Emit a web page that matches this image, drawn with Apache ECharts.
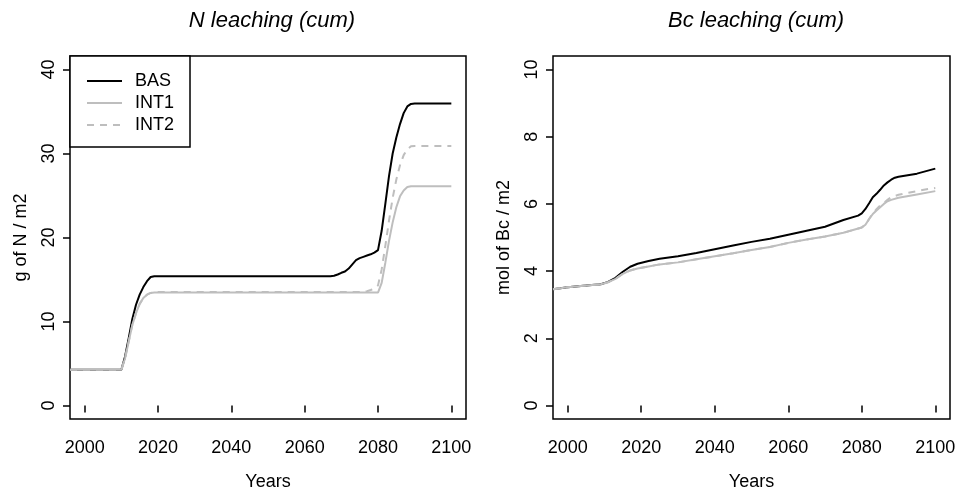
<!DOCTYPE html>
<html lang="en">

<head>
    <meta charset="UTF-8">
    <title>N and Bc leaching (cum)</title>
    <script src="https://cdn.jsdelivr.net/npm/echarts@6/dist/echarts.min.js"></script>
    <style>
        body,
        html {
            margin: 0;
            padding: 0;
            background: #fff;
        }

        #main {
            width: 959px;
            height: 491px;
        }
    </style>
</head>

<body>
    <div id="main"></div>
    <script>
        // tick labels
        var yearTicks = [2000, 2020, 2040, 2060, 2080, 2100];
        var nTicks = [0, 10, 20, 30, 40];
        var bcTicks = [0, 2, 4, 6, 8, 10];

        // N leaching (cum), g of N / m2  -- [year, value]
        var nBAS = [[1996, 4.25], [2010, 4.25], [2011, 5.8], [2012, 8.0], [2013, 10.3], [2014, 12.0], [2015, 13.2],
            [2016, 14.1], [2017, 14.8], [2018, 15.3], [2019, 15.4], [2067, 15.4], [2068, 15.45], [2069, 15.6],
            [2070, 15.8], [2071, 15.95], [2072, 16.3], [2073, 16.8], [2074, 17.3], [2075, 17.55], [2076, 17.7],
            [2077, 17.85], [2078, 18.0], [2079, 18.2], [2080, 18.5], [2081, 20.8], [2082, 24.0], [2083, 27.3],
            [2084, 30.0], [2085, 31.9], [2086, 33.5], [2087, 34.8], [2088, 35.6], [2089, 35.9], [2090, 35.95],
            [2100, 35.95]];
        var nINT1 = [[1996, 4.25], [2010, 4.25], [2011, 5.6], [2012, 7.6], [2013, 9.6], [2014, 11.0], [2015, 12.1],
            [2016, 12.8], [2017, 13.2], [2018, 13.4], [2019, 13.45], [2080, 13.45], [2081, 14.6], [2082, 17.0],
            [2083, 19.6], [2084, 21.8], [2085, 23.6], [2086, 24.9], [2087, 25.6], [2088, 26.0], [2089, 26.1],
            [2100, 26.1]];
        var nINT2 = [[1996, 4.25], [2010, 4.25], [2011, 5.6], [2012, 7.6], [2013, 9.6], [2014, 11.0], [2015, 12.1],
            [2016, 12.8], [2017, 13.2], [2018, 13.4], [2019, 13.5], [2076, 13.5], [2077, 13.6], [2078, 13.75],
            [2079, 13.95], [2080, 14.3], [2081, 16.2], [2082, 19.0], [2083, 22.0], [2084, 24.7], [2085, 26.9],
            [2086, 28.6], [2087, 29.8], [2088, 30.5], [2089, 30.85], [2090, 30.9], [2100, 30.9]];

        // Bc leaching (cum), mol of Bc / m2
        var bcBAS = [[1996, 3.46], [2000, 3.52], [2005, 3.57], [2009, 3.61], [2011, 3.68], [2013, 3.8], [2015, 3.98],
            [2017, 4.13], [2019, 4.22], [2022, 4.3], [2025, 4.37], [2030, 4.44], [2035, 4.54], [2040, 4.65],
            [2045, 4.76], [2050, 4.87], [2055, 4.96], [2060, 5.08], [2065, 5.2], [2070, 5.32], [2075, 5.52],
            [2079, 5.65], [2080, 5.72], [2081, 5.85], [2082, 6.02], [2083, 6.2], [2084, 6.3], [2085, 6.42],
            [2086, 6.55], [2087, 6.64], [2088, 6.72], [2089, 6.78], [2090, 6.81], [2095, 6.9], [2100, 7.05]];
        var bcINT1 = [[1996, 3.46], [2000, 3.52], [2005, 3.57], [2009, 3.61], [2011, 3.67], [2013, 3.77], [2015, 3.92],
            [2017, 4.02], [2019, 4.08], [2022, 4.14], [2025, 4.2], [2030, 4.26], [2035, 4.35], [2040, 4.44],
            [2045, 4.53], [2050, 4.63], [2055, 4.72], [2060, 4.84], [2065, 4.94], [2070, 5.03], [2075, 5.14],
            [2080, 5.3], [2081, 5.38], [2082, 5.55], [2083, 5.7], [2084, 5.8], [2085, 5.9], [2086, 6.0],
            [2087, 6.08], [2088, 6.12], [2090, 6.18], [2095, 6.28], [2100, 6.38]];
        var bcINT2 = [[1996, 3.46], [2000, 3.52], [2005, 3.57], [2009, 3.61], [2011, 3.67], [2013, 3.77], [2015, 3.92],
            [2017, 4.02], [2019, 4.08], [2022, 4.14], [2025, 4.2], [2030, 4.26], [2035, 4.35], [2040, 4.44],
            [2045, 4.53], [2050, 4.63], [2055, 4.72], [2060, 4.84], [2065, 4.94], [2070, 5.03], [2075, 5.14],
            [2080, 5.3], [2081, 5.38], [2082, 5.55], [2083, 5.72], [2084, 5.84], [2085, 5.95], [2086, 6.03],
            [2087, 6.12], [2088, 6.2], [2090, 6.27], [2092, 6.32], [2095, 6.38], [2098, 6.44], [2100, 6.47]];

        var font = 'Liberation Sans, Arial, sans-serif';
        var grey = '#bebebe';

        function xAxisOf(idx) {
            return {
                type: 'value', gridIndex: idx, min: 1996, max: 2104,
                name: 'Years', nameLocation: 'middle', nameGap: 54,
                nameTextStyle: { fontFamily: font, fontSize: 18, color: '#000' },
                axisLine: { show: false },
                axisTick: { show: true, length: 7, customValues: yearTicks, lineStyle: { color: '#000', width: 1.5 } },
                axisLabel: {
                    customValues: yearTicks, margin: 20, fontFamily: font, fontSize: 18, color: '#000',
                    formatter: function (v) { return String(v); }
                },
                splitLine: { show: false }
            };
        }
        function yAxisOf(idx, name, min, max, ticks) {
            return {
                type: 'value', gridIndex: idx, min: min, max: max,
                name: name, nameLocation: 'middle', nameGap: 40,
                nameTextStyle: { fontFamily: font, fontSize: 18, color: '#000' },
                axisLine: { show: false },
                axisTick: { show: true, length: 7, customValues: ticks, lineStyle: { color: '#000', width: 1.5 } },
                axisLabel: { customValues: ticks, rotate: 90, margin: 12, fontFamily: font, fontSize: 18, color: '#000' },
                splitLine: { show: false }
            };
        }
        function line(name, idx, data, color, dashed) {
            return {
                name: name, type: 'line', xAxisIndex: idx, yAxisIndex: idx, data: data,
                symbol: 'none', silent: true, animation: false,
                lineStyle: { color: color, width: 2, type: dashed ? [7, 6] : 'solid' },
                itemStyle: { color: color }
            };
        }

        var myChart = echarts.init(document.getElementById('main'));
        var option = {
            backgroundColor: '#fff',
            animation: false,
            title: [
                { text: 'N leaching (cum)', left: 267, top: 5, textAlign: 'center',
                    textStyle: { fontFamily: font, fontSize: 22, fontStyle: 'italic', fontWeight: 'normal', color: '#000' } },
                { text: 'Bc leaching (cum)', left: 751, top: 5, textAlign: 'center',
                    textStyle: { fontFamily: font, fontSize: 22, fontStyle: 'italic', fontWeight: 'normal', color: '#000' } }
            ],
            grid: [
                { left: 70, top: 56, width: 396, height: 363, outerBoundsMode: 'none',
                    show: true, borderColor: '#000', borderWidth: 1.5 },
                { left: 553, top: 56, width: 397, height: 363, outerBoundsMode: 'none',
                    show: true, borderColor: '#000', borderWidth: 1.5 }
            ],
            legend: {
                data: ['BAS', 'INT1', 'INT2'],
                orient: 'vertical', left: 70, top: 56,
                padding: [16, 16, 13, 16],
                itemWidth: 35, itemHeight: 14, itemGap: 4,
                itemStyle: { opacity: 0 },
                backgroundColor: '#fff', borderColor: '#000', borderWidth: 1.5, borderRadius: 0,
                textStyle: { fontFamily: font, fontSize: 18, color: '#000', padding: [0, 0, 0, 8] },
                selectedMode: false
            },
            xAxis: [xAxisOf(0), xAxisOf(1)],
            yAxis: [yAxisOf(0, 'g of N / m2', -1.6, 41.6, nTicks), yAxisOf(1, 'mol of Bc / m2', -0.4, 10.4, bcTicks)],
            series: [
                line('BAS', 0, nBAS, '#000', false),
                line('INT1', 0, nINT1, grey, false),
                line('INT2', 0, nINT2, grey, true),
                line('BAS', 1, bcBAS, '#000', false),
                line('INT1', 1, bcINT1, grey, false),
                line('INT2', 1, bcINT2, grey, true)
            ]
        };
        myChart.setOption(option);
    </script>
</body>

</html>
